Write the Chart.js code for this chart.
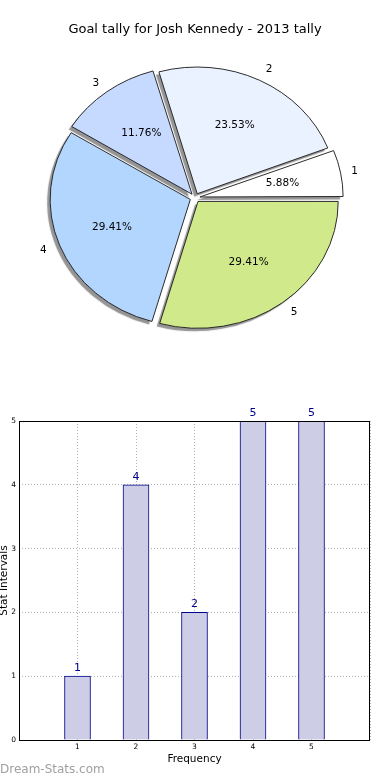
<!DOCTYPE html>
<html>
<head>
<meta charset="utf-8">
<script src="https://cdn.jsdelivr.net/npm/chart.js@4"></script>
<style>
  html, body { margin: 0; padding: 0; background: #fff; }
  body { width: 390px; height: 780px; position: relative; overflow: hidden; font-family: "DejaVu Sans", sans-serif; }
  #pie-chart { position: absolute; left: 0; top: 0; }
  #bar-chart { position: absolute; left: 0; top: 390px; }
  #mark { position: absolute; left: 0; top: 762px; font-size: 12px; line-height: 14px; color: #a0a0a0; }
</style>
</head>
<body>
<canvas id="pie-chart" width="390" height="390"></canvas>
<canvas id="bar-chart" width="390" height="390"></canvas>
<div id="mark">Dream-Stats.com</div>
<script>
// data
const labels      = ['1', '2', '3', '4', '5'];
const tally       = [1, 4, 2, 5, 5];
const sliceColors = ['#ffffff', '#eaf2ff', '#c6d9ff', '#b3d6ff', '#d0ea8b'];
const yTicks      = [0, 1, 2, 3, 4, 5];
const xRange      = [0, 6];

const FONT = '"DejaVu Sans", sans-serif';
const SQUASH = 0.905;   // pie is a bit flatter than wide

// matplotlib goes counter-clockwise from east, chart.js clockwise -> reverse
const pieLabels = labels.slice().reverse();
const pieValues = tally.slice().reverse();
const pieColors = sliceColors.slice().reverse();
const total = tally.reduce((a, b) => a + b, 0);

const pieShape = {
    id: 'pieShape',
    beforeDatasetsDraw(chart) {
        const { ctx, chartArea } = chart;
        const cx = (chartArea.left + chartArea.right) / 2;
        const cy = (chartArea.top + chartArea.bottom) / 2;
        ctx.save();
        ctx.translate(cx, cy);
        ctx.scale(1, SQUASH);
        ctx.translate(-cx, -cy);
        ctx.shadowColor = 'rgba(0,0,0,0.42)';
        ctx.shadowOffsetX = -3;
        ctx.shadowOffsetY = 3;
        ctx.shadowBlur = 1;
        // shadow only under the fill, not the outline
        const stroke = CanvasRenderingContext2D.prototype.stroke;
        ctx.stroke = function (...args) {
            const sc = this.shadowColor;
            this.shadowColor = 'transparent';
            stroke.apply(this, args);
            this.shadowColor = sc;
        };
    },
    afterDatasetsDraw(chart) {
        const ctx = chart.ctx;
        delete ctx.stroke;
        ctx.restore();
        ctx.save();
        ctx.font = '10.5px ' + FONT;
        ctx.fillStyle = '#000';
        ctx.textBaseline = 'middle';
        chart.getDatasetMeta(0).data.forEach((arc, i) => {
            const p = arc.getProps(['x', 'y', 'startAngle', 'endAngle', 'outerRadius']);
            const off = arc.options.offset / 4;   // chart.js draws offset / 4
            const mid = (p.startAngle + p.endAngle) / 2;
            const c = Math.cos(mid), s = Math.sin(mid);

            const pr = off + p.outerRadius * 0.6;
            ctx.textAlign = 'center';
            ctx.fillText((pieValues[i] / total * 100).toFixed(2) + '%', p.x + pr * c, p.y + pr * s * SQUASH);

            const lr = off + p.outerRadius * 1.1;
            ctx.textAlign = c >= 0 ? 'left' : 'right';
            ctx.fillText(pieLabels[i], p.x + lr * c, p.y + lr * s * SQUASH);
        });
        ctx.restore();
    }
};

new Chart(document.getElementById('pie-chart'), {
    type: 'pie',
    data: {
        labels: pieLabels,
        datasets: [{
            data: pieValues,
            backgroundColor: pieColors,
            borderColor: '#222',
            borderWidth: 1,
            offset: 20,
            radius: 140,
            clip: false
        }]
    },
    options: {
        responsive: false,
        animation: false,
        events: [],
        rotation: 90,
        layout: { padding: { top: 0, bottom: 32 } },
        plugins: {
            legend: { display: false },
            tooltip: { enabled: false },
            title: {
                display: true,
                text: 'Goal tally for Josh Kennedy - 2013 tally',
                color: '#000',
                font: { family: FONT, size: 13, weight: 'normal' },
                padding: { top: 22, bottom: 0 }
            }
        }
    },
    plugins: [pieShape]
});

// bar chart
const frame = {
    id: 'frame',
    afterDraw(chart) {
        const { ctx, chartArea: a } = chart;
        ctx.save();
        ctx.strokeStyle = '#000';
        ctx.lineWidth = 1;
        ctx.strokeRect(a.left + 0.5, a.top + 0.5, a.right - a.left - 1, a.bottom - a.top);
        ctx.restore();
    }
};

const barLabels = {
    id: 'barLabels',
    afterDatasetsDraw(chart) {
        const ctx = chart.ctx;
        ctx.save();
        ctx.font = '11px ' + FONT;
        ctx.fillStyle = '#00008b';
        ctx.textAlign = 'center';
        ctx.textBaseline = 'alphabetic';
        chart.getDatasetMeta(0).data.forEach((bar, i) => {
            ctx.fillText(String(tally[i]), bar.x, bar.y - 5);
        });
        ctx.restore();
    }
};

const gridStyle = { color: '#b0b0b0', lineWidth: 1, drawTicks: false, offset: false };

new Chart(document.getElementById('bar-chart'), {
    type: 'bar',
    data: {
        datasets: [{
            data: labels.map((l, i) => ({ x: Number(l), y: tally[i] })),
            backgroundColor: '#cdcde6',
            borderColor: '#00008b',
            borderWidth: 1,
            barThickness: 26
        }]
    },
    options: {
        responsive: false,
        animation: false,
        events: [],
        layout: { padding: { top: 31, right: 20, left: 0, bottom: 0 } },
        plugins: { legend: { display: false }, tooltip: { enabled: false } },
        scales: {
            x: {
                type: 'linear',
                min: xRange[0],
                max: xRange[1],
                offset: false,
                z: 1,
                grid: gridStyle,
                border: { display: false, dash: [1, 2] },
                ticks: {
                    stepSize: 1,
                    padding: 3,
                    color: '#000',
                    font: { family: FONT, size: 7.5 },
                    callback: v => labels.includes(String(v)) ? String(v) : ''
                },
                title: {
                    display: true,
                    text: 'Frequency',
                    color: '#000',
                    font: { family: FONT, size: 10.5 },
                    padding: { top: 0, bottom: 14 }
                },
                afterFit: s => { s.height = 40; }
            },
            y: {
                min: yTicks[0],
                max: yTicks[yTicks.length - 1],
                z: 1,
                grid: gridStyle,
                border: { display: false, dash: [1, 2] },
                ticks: {
                    stepSize: 1,
                    padding: 3,
                    color: '#000',
                    font: { family: FONT, size: 7.5 }
                },
                title: {
                    display: true,
                    text: 'Stat Intervals',
                    color: '#000',
                    font: { family: FONT, size: 10.5 },
                    padding: { top: -2, bottom: 0 }
                },
                afterFit: s => { s.width = 19; }
            }
        }
    },
    plugins: [frame, barLabels]
});
</script>
</body>
</html>
